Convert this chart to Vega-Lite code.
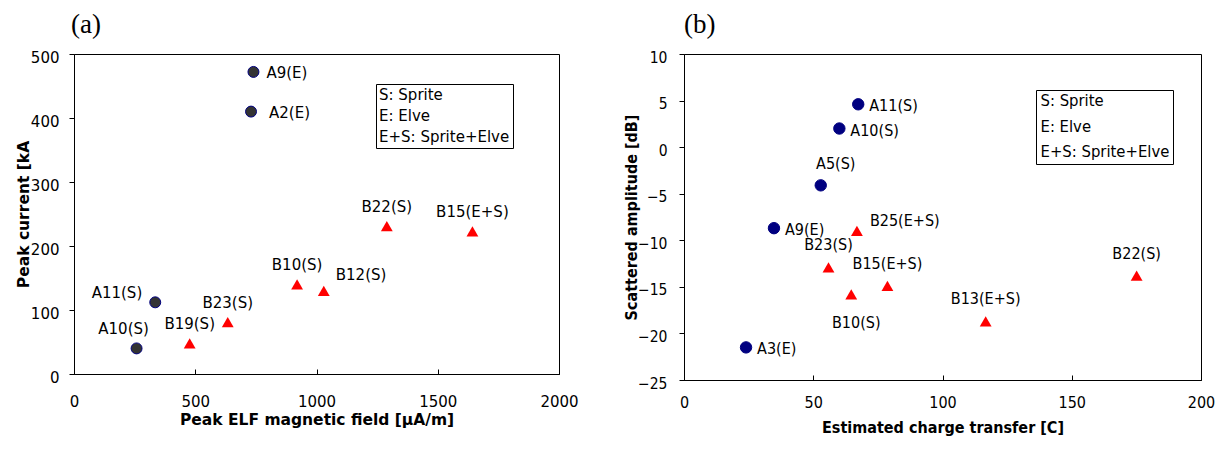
{
  "$schema": "https://vega.github.io/schema/vega-lite/v6.json",
  "background": "white",
  "padding": {"left": 15, "top": 10, "right": 0, "bottom": 0},
  "spacing": 44,
  "datasets": {
    "a": [
      {"label": "A9(E)", "x": 740, "y": 472, "kind": "A", "pos": "r"},
      {"label": "A2(E)", "x": 730, "y": 410, "kind": "A", "pos": "r2"},
      {"label": "A11(S)", "x": 335, "y": 112, "kind": "A", "pos": "l"},
      {"label": "A10(S)", "x": 258, "y": 40, "kind": "A", "pos": "al"},
      {"label": "B19(S)", "x": 477, "y": 48, "kind": "B", "pos": "a"},
      {"label": "B23(S)", "x": 634, "y": 81, "kind": "B", "pos": "a"},
      {"label": "B10(S)", "x": 920, "y": 140, "kind": "B", "pos": "a"},
      {"label": "B12(S)", "x": 1030, "y": 130, "kind": "B", "pos": "ar"},
      {"label": "B22(S)", "x": 1290, "y": 231, "kind": "B", "pos": "a"},
      {"label": "B15(E+S)", "x": 1643, "y": 223, "kind": "B", "pos": "a"}
    ],
    "b": [
      {"label": "A11(S)", "x": 67.4, "y": 4.6, "kind": "A", "pos": "r"},
      {"label": "A10(S)", "x": 60.1, "y": 2.0, "kind": "A", "pos": "r"},
      {"label": "A5(S)", "x": 52.9, "y": -4.1, "kind": "A", "pos": "a2"},
      {"label": "A9(E)", "x": 34.8, "y": -8.7, "kind": "A", "pos": "r"},
      {"label": "A3(E)", "x": 24.0, "y": -21.5, "kind": "A", "pos": "r"},
      {"label": "B25(E+S)", "x": 66.9, "y": -9.0, "kind": "B", "pos": "ar"},
      {"label": "B23(S)", "x": 55.9, "y": -12.9, "kind": "B", "pos": "a"},
      {"label": "B10(S)", "x": 64.7, "y": -15.8, "kind": "B", "pos": "b"},
      {"label": "B15(E+S)", "x": 78.7, "y": -14.9, "kind": "B", "pos": "a"},
      {"label": "B13(E+S)", "x": 116.7, "y": -18.7, "kind": "B", "pos": "a"},
      {"label": "B22(S)", "x": 175.1, "y": -13.8, "kind": "B", "pos": "a"}
    ],
    "notes": [
      {"note": "S: Sprite"},
      {"note": "E: Elve"},
      {"note": "E+S: Sprite+Elve"}
    ]
  },
  "resolve": {"scale": {"color": "independent"}, "legend": {"color": "independent"}},
  "hconcat": [
    {
      "width": 485,
      "height": 320,
      "title": {"text": "(a)", "anchor": "start", "frame": "group", "font": "Liberation Serif", "fontSize": 27, "fontWeight": "normal", "color": "black", "offset": 11, "dx": -3},
      "layer": [
        {
          "data": {"name": "a"},
          "transform": [{"filter": "datum.kind === 'A'"}],
          "mark": {"type": "point", "shape": "circle", "filled": true, "fill": "#333333", "stroke": "#000080", "strokeWidth": 1, "size": 120, "opacity": 1},
          "encoding": {
            "x": {"field": "x", "type": "quantitative", "scale": {"domain": [0, 2000], "nice": false},
              "axis": {"values": [0, 500, 1000, 1500, 2000], "format": "d", "labelOverlap": false, "labelFlush": false, "title": "Peak ELF magnetic field [μA/m]", "titleFont": "DejaVu Sans", "titleFontSize": 15.5, "titleFontWeight": "bold", "titlePadding": 3, "labelFont": "DejaVu Sans", "labelFontSize": 15, "tickSize": -5, "labelPadding": 25, "grid": false, "domainColor": "black", "tickColor": "black", "labelColor": "black", "titleColor": "black"}},
            "y": {"field": "y", "type": "quantitative", "scale": {"domain": [0, 500], "nice": false},
              "axis": {"values": [0, 50, 100, 150, 200, 250, 300, 350, 400, 450, 500], "format": "d", "labelOverlap": false, "labelFlush": false, "title": "Peak current [kA", "titleFont": "DejaVu Sans", "titleFontSize": 15.5, "titleFontWeight": "bold", "titlePadding": -1, "labelFont": "DejaVu Sans", "labelFontSize": 15, "tickSize": 5, "labelPadding": 10, "labelOffset": 3, "grid": false, "domainColor": "black", "tickColor": "black", "labelColor": "black", "titleColor": "black"}}
          }
        },
        {
          "data": {"name": "a"},
          "transform": [{"filter": "datum.kind === 'B'"}],
          "mark": {"type": "point", "shape": "triangle-up", "filled": true, "fill": "#ff0000", "strokeWidth": 0, "size": 140, "opacity": 1},
          "encoding": {"x": {"field": "x", "type": "quantitative"}, "y": {"field": "y", "type": "quantitative"}}
        },
        {
          "data": {"name": "a"},
          "transform": [{"filter": "datum.pos === 'r'"}],
          "mark": {"type": "text", "align": "left", "baseline": "middle", "dx": 13, "dy": 1, "font": "DejaVu Sans", "fontSize": 15, "color": "black"},
          "encoding": {"x": {"field": "x", "type": "quantitative"}, "y": {"field": "y", "type": "quantitative"}, "text": {"field": "label"}}
        },
        {
          "data": {"name": "a"},
          "transform": [{"filter": "datum.pos === 'r2'"}],
          "mark": {"type": "text", "align": "left", "baseline": "middle", "dx": 18, "dy": 1, "font": "DejaVu Sans", "fontSize": 15, "color": "black"},
          "encoding": {"x": {"field": "x", "type": "quantitative"}, "y": {"field": "y", "type": "quantitative"}, "text": {"field": "label"}}
        },
        {
          "data": {"name": "a"},
          "transform": [{"filter": "datum.pos === 'l'"}],
          "mark": {"type": "text", "align": "right", "baseline": "middle", "dx": -13, "dy": -9, "font": "DejaVu Sans", "fontSize": 15, "color": "black"},
          "encoding": {"x": {"field": "x", "type": "quantitative"}, "y": {"field": "y", "type": "quantitative"}, "text": {"field": "label"}}
        },
        {
          "data": {"name": "a"},
          "transform": [{"filter": "datum.pos === 'al'"}],
          "mark": {"type": "text", "align": "center", "baseline": "middle", "dx": -13, "dy": -19, "font": "DejaVu Sans", "fontSize": 15, "color": "black"},
          "encoding": {"x": {"field": "x", "type": "quantitative"}, "y": {"field": "y", "type": "quantitative"}, "text": {"field": "label"}}
        },
        {
          "data": {"name": "a"},
          "transform": [{"filter": "datum.pos === 'a'"}],
          "mark": {"type": "text", "align": "center", "baseline": "middle", "dx": 0, "dy": -19, "font": "DejaVu Sans", "fontSize": 15, "color": "black"},
          "encoding": {"x": {"field": "x", "type": "quantitative"}, "y": {"field": "y", "type": "quantitative"}, "text": {"field": "label"}}
        },
        {
          "data": {"name": "a"},
          "transform": [{"filter": "datum.pos === 'ar'"}],
          "mark": {"type": "text", "align": "left", "baseline": "middle", "dx": 12, "dy": -16, "font": "DejaVu Sans", "fontSize": 15, "color": "black"},
          "encoding": {"x": {"field": "x", "type": "quantitative"}, "y": {"field": "y", "type": "quantitative"}, "text": {"field": "label"}}
        },
        {
          "data": {"name": "notes"},
          "mark": {"type": "point", "opacity": 0},
          "encoding": {
            "color": {"field": "note", "type": "nominal", "sort": null,
              "scale": {"domain": ["S: Sprite", "E: Elve", "E+S: Sprite+Elve"], "range": ["black", "black", "black"]},
              "legend": {"title": null, "orient": "none", "legendX": 302, "legendY": 30, "strokeColor": "black", "fillColor": "white", "padding": 3, "symbolSize": 0, "symbolOpacity": 0, "symbolStrokeWidth": 0, "labelOffset": -15, "labelFont": "DejaVu Sans", "labelFontSize": 15, "labelColor": "black", "rowPadding": 5, "labelLimit": 400}}
          }
        }
      ]
    },
    {
      "width": 517,
      "height": 326,
      "title": {"text": "(b)", "anchor": "start", "frame": "group", "font": "Liberation Serif", "fontSize": 27, "fontWeight": "normal", "color": "black", "offset": 11, "dx": 0},
      "layer": [
        {
          "data": {"name": "b"},
          "transform": [{"filter": "datum.kind === 'A'"}],
          "mark": {"type": "point", "shape": "circle", "filled": true, "fill": "#000080", "stroke": "#000080", "strokeWidth": 1, "size": 130, "opacity": 1},
          "encoding": {
            "x": {"field": "x", "type": "quantitative", "scale": {"domain": [0, 200], "nice": false},
              "axis": {"values": [0, 50, 100, 150, 200], "labelOverlap": false, "labelFlush": false, "title": "Estimated charge transfer [C]", "titleFont": "DejaVu Sans Condensed, Liberation Sans", "titleFontSize": 16, "titleFontWeight": "bold", "titlePadding": 9, "labelFont": "DejaVu Sans Condensed, Liberation Sans", "labelFontSize": 16, "tickSize": -5, "labelPadding": 19, "grid": false, "domainColor": "black", "tickColor": "black", "labelColor": "black", "titleColor": "black"}},
            "y": {"field": "y", "type": "quantitative", "scale": {"domain": [-25, 10], "nice": false},
              "axis": {"values": [-25, -20, -15, -10, -5, 0, 5, 10], "labelOverlap": false, "labelFlush": false, "title": "Scattered amplitude [dB]", "titleFont": "DejaVu Sans Condensed, Liberation Sans", "titleFontSize": 16, "titleFontWeight": "bold", "titlePadding": -2, "labelFont": "DejaVu Sans Condensed, Liberation Sans", "labelFontSize": 15.5, "tickSize": 5, "labelPadding": 12, "labelOffset": 3, "grid": false, "domainColor": "black", "tickColor": "black", "labelColor": "black", "titleColor": "black"}}
          }
        },
        {
          "data": {"name": "b"},
          "transform": [{"filter": "datum.kind === 'B'"}],
          "mark": {"type": "point", "shape": "triangle-up", "filled": true, "fill": "#ff0000", "strokeWidth": 0, "size": 140, "opacity": 1},
          "encoding": {"x": {"field": "x", "type": "quantitative"}, "y": {"field": "y", "type": "quantitative"}}
        },
        {
          "data": {"name": "b"},
          "transform": [{"filter": "datum.pos === 'r'"}],
          "mark": {"type": "text", "align": "left", "baseline": "middle", "dx": 11, "dy": 2, "font": "DejaVu Sans Condensed, Liberation Sans", "fontSize": 16, "color": "black"},
          "encoding": {"x": {"field": "x", "type": "quantitative"}, "y": {"field": "y", "type": "quantitative"}, "text": {"field": "label"}}
        },
        {
          "data": {"name": "b"},
          "transform": [{"filter": "datum.pos === 'a'"}],
          "mark": {"type": "text", "align": "center", "baseline": "middle", "dx": 0, "dy": -22, "font": "DejaVu Sans Condensed, Liberation Sans", "fontSize": 16, "color": "black"},
          "encoding": {"x": {"field": "x", "type": "quantitative"}, "y": {"field": "y", "type": "quantitative"}, "text": {"field": "label"}}
        },
        {
          "data": {"name": "b"},
          "transform": [{"filter": "datum.pos === 'a2'"}],
          "mark": {"type": "text", "align": "center", "baseline": "middle", "dx": 15, "dy": -21, "font": "DejaVu Sans Condensed, Liberation Sans", "fontSize": 16, "color": "black"},
          "encoding": {"x": {"field": "x", "type": "quantitative"}, "y": {"field": "y", "type": "quantitative"}, "text": {"field": "label"}}
        },
        {
          "data": {"name": "b"},
          "transform": [{"filter": "datum.pos === 'ar'"}],
          "mark": {"type": "text", "align": "left", "baseline": "middle", "dx": 13, "dy": -10, "font": "DejaVu Sans Condensed, Liberation Sans", "fontSize": 16, "color": "black"},
          "encoding": {"x": {"field": "x", "type": "quantitative"}, "y": {"field": "y", "type": "quantitative"}, "text": {"field": "label"}}
        },
        {
          "data": {"name": "b"},
          "transform": [{"filter": "datum.pos === 'b'"}],
          "mark": {"type": "text", "align": "center", "baseline": "middle", "dx": 5, "dy": 29, "font": "DejaVu Sans Condensed, Liberation Sans", "fontSize": 16, "color": "black"},
          "encoding": {"x": {"field": "x", "type": "quantitative"}, "y": {"field": "y", "type": "quantitative"}, "text": {"field": "label"}}
        },
        {
          "data": {"name": "notes"},
          "mark": {"type": "point", "opacity": 0},
          "encoding": {
            "color": {"field": "note", "type": "nominal", "sort": null,
              "scale": {"domain": ["S: Sprite", "E: Elve", "E+S: Sprite+Elve"], "range": ["black", "black", "black"]},
              "legend": {"title": null, "orient": "none", "legendX": 352, "legendY": 36, "strokeColor": "black", "fillColor": "white", "padding": 3, "symbolSize": 0, "symbolOpacity": 0, "symbolStrokeWidth": 0, "labelOffset": -15, "labelFont": "DejaVu Sans Condensed, Liberation Sans", "labelFontSize": 16.5, "labelColor": "black", "rowPadding": 8.5, "labelLimit": 400}}
          }
        }
      ]
    }
  ],
  "config": {
    "view": {"stroke": "black", "strokeWidth": 1},
    "axis": {"grid": false}
  }
}
